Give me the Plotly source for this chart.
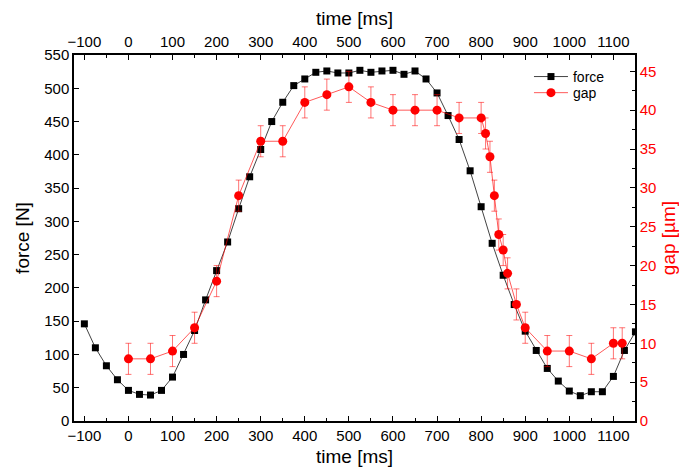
import plotly.graph_objects as go

# ---- data ----
force_time = [-100, -75, -50, -25, 0, 25, 50, 75, 100, 125, 150, 175, 200, 225, 250, 275, 300,
              325, 350, 375, 400, 425, 450, 475, 500, 525, 550, 575, 600, 625, 650, 675, 700,
              725, 750, 775, 800, 825, 850, 875, 900, 925, 950, 975, 1000, 1025, 1050, 1075,
              1100, 1125, 1150]
force_vals = [146, 110, 83, 62, 46, 40, 39, 46, 66, 100, 136, 182, 226, 269, 319, 367, 408,
              450, 479, 504, 514, 524, 526, 523, 523, 527, 524, 526, 527, 521, 526, 514, 493,
              459, 423, 376, 322, 267, 219, 175, 135, 106, 79, 60, 45, 38, 44, 44,
              67, 106, 134]

gap_time = [0, 50, 100, 150, 200, 250, 300, 350, 400, 450, 500, 550, 600, 650, 700, 750,
            800, 810, 820, 830, 840, 850, 860, 880, 900, 950, 1000, 1050, 1100, 1120]
gap_vals = [8, 8, 9, 12, 18, 29, 36, 36, 41, 42, 43, 41, 40, 40, 40, 39,
            39, 37, 34, 29, 24, 22, 19, 15, 12, 9, 9, 8, 10, 10]
gap_err = [2] * len(gap_vals)

x_ticks = [-100, 0, 100, 200, 300, 400, 500, 600, 700, 800, 900, 1000, 1100]
force_ticks = [0, 50, 100, 150, 200, 250, 300, 350, 400, 450, 500, 550]
gap_ticks = [0, 5, 10, 15, 20, 25, 30, 35, 40, 45]

FONT = "Liberation Sans, Arial, sans-serif"
RED = "#ff0000"
TICK = 15
TITLE = 19

fig = go.Figure()
fig.add_trace(go.Scatter(
    x=force_time, y=force_vals, name="force", mode="lines+markers",
    line=dict(color="#444444", width=1),
    marker=dict(symbol="square", size=7, color="black"),
    xaxis="x", yaxis="y", legend="legend"))
fig.add_trace(go.Scatter(
    x=gap_time, y=gap_vals, name="gap", mode="lines+markers",
    line=dict(color="rgba(255,0,0,0.65)", width=1),
    marker=dict(symbol="circle", size=9, color=RED),
    error_y=dict(type="data", array=gap_err, visible=True,
                 color="rgba(255,0,0,0.55)", thickness=1, width=3),
    xaxis="x2", yaxis="y2", legend="legend2"))

xr = [-123.5, 1149]
common_x = dict(range=xr, tickmode="array", tickvals=x_ticks, ticks="inside", ticklen=5,
                tickwidth=1, tickcolor="black", showline=True, linecolor="black", linewidth=1.5,
                showgrid=False, zeroline=False, automargin=False,
                minor=dict(dtick=50, tick0=0, ticks="inside", ticklen=3, tickcolor="black", showgrid=False),
                tickfont=dict(family=FONT, size=TICK, color="black"))

leg_common = dict(xanchor="left", yanchor="middle", bgcolor="rgba(0,0,0,0)",
                  font=dict(family=FONT, size=14, color="black"), itemwidth=34)

# page body has an 8px default margin, so the figure is shrunk by 8px to fit the window
fig.update_layout(
    width=679, height=463,
    margin=dict(l=66, r=52, t=47, b=50, autoexpand=False),
    paper_bgcolor="white", plot_bgcolor="white",
    font=dict(family=FONT, size=TICK, color="black"),
    showlegend=True,
    legend=dict(x=0.811, y=0.940, **leg_common),
    legend2=dict(x=0.811, y=0.896, **leg_common),
    xaxis=dict(**common_x, side="bottom",
               title=dict(text="time [ms]", font=dict(family=FONT, size=TITLE), standoff=7)),
    xaxis2=dict(**common_x, side="top", overlaying="x",
                title=dict(text="time [ms]", font=dict(family=FONT, size=TITLE), standoff=7)),
    yaxis=dict(range=[0, 550], tickmode="array", tickvals=force_ticks, ticks="inside", ticklen=5,
               tickcolor="black", showline=True, linecolor="black", linewidth=1.5,
               showgrid=False, zeroline=False, automargin=False,
               tickfont=dict(family=FONT, size=TICK, color="black"),
               title=dict(text="force [N]", font=dict(family=FONT, size=TITLE), standoff=10)),
    yaxis2=dict(range=[0, 47.1], tickmode="array", tickvals=gap_ticks, ticks="inside", ticklen=5,
                tickcolor="black", showline=True, linecolor="black", linewidth=1.5,
                showgrid=False, zeroline=False, side="right", overlaying="y", automargin=False,
                minor=dict(dtick=2.5, tick0=0, ticks="inside", ticklen=3, tickcolor="black", showgrid=False),
                tickfont=dict(family=FONT, size=TICK, color=RED),
                title=dict(text="gap [µm]", font=dict(family=FONT, size=TITLE, color=RED), standoff=6)),
)

fig.write_html("out.html")
